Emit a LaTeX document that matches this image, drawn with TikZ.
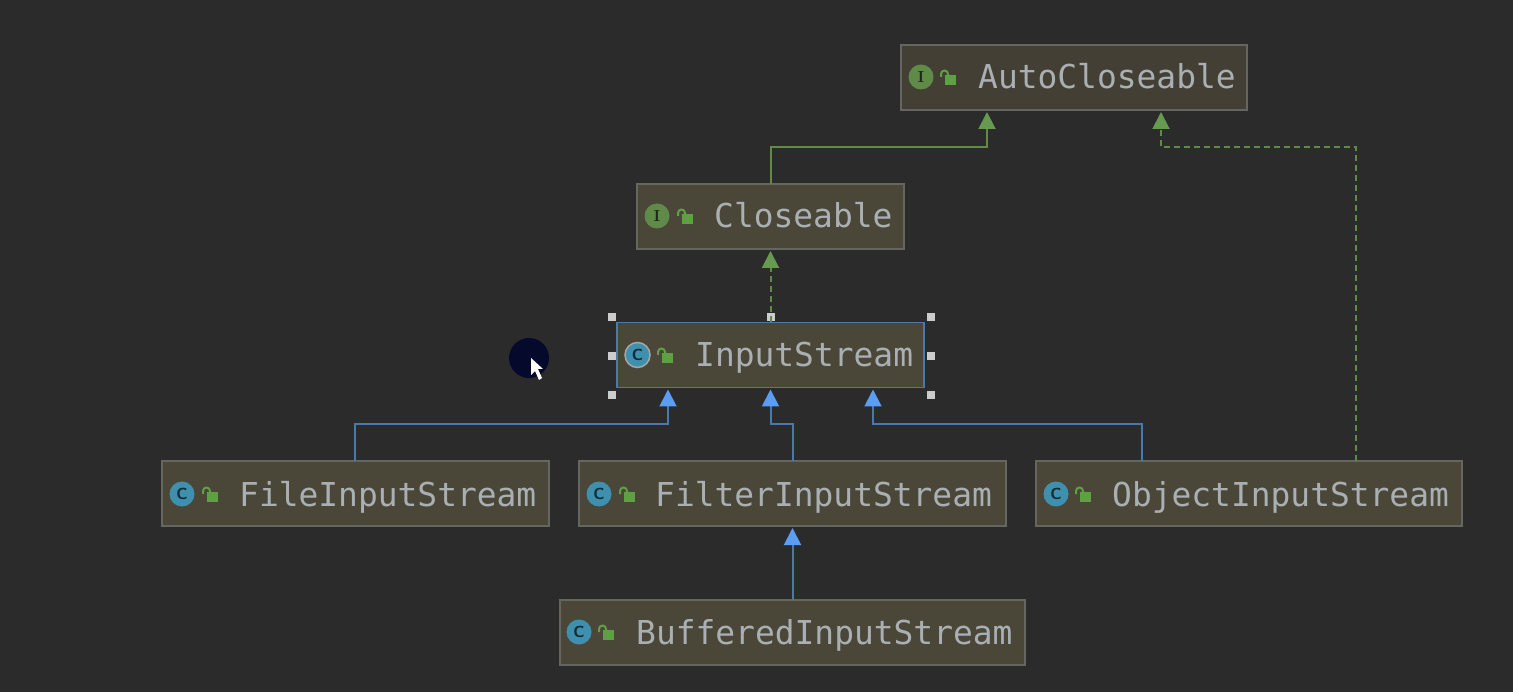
\documentclass[tikz,border=0pt]{standalone}
\usepackage{fontspec}
\setmonofont{DejaVu Sans Mono}
\usepackage{xcolor}
\usetikzlibrary{arrows.meta, positioning, calc}

\definecolor{bgdark}{HTML}{2B2B2B}
\definecolor{boxfill}{HTML}{4A4739}
\definecolor{boxfilldark}{HTML}{433F35}
\definecolor{boxline}{HTML}{666660}
\definecolor{labeltext}{HTML}{A9AFB2}
\definecolor{implgreen}{HTML}{5F8A48}
\definecolor{tipgreen}{HTML}{659A50}
\definecolor{extblue}{HTML}{4A79AD}
\definecolor{tipblue}{HTML}{5B9DF2}
\definecolor{classteal}{HTML}{3F8FAE}
\definecolor{lockgreen}{HTML}{5FA045}
\definecolor{cursordark}{HTML}{05092C}

\tikzset{
  umlbox/.style={draw=boxline, line width=1.6pt, fill=boxfill, minimum height=65pt, inner sep=0pt, outer sep=0pt},
  umllabel/.style={anchor=base west, inner sep=0pt, text=labeltext, font=\ttfamily\fontsize{32.9}{36}\selectfont},
  classicon/.style={circle, fill=classteal, minimum size=25pt, inner sep=0pt, text=black!70!classteal, font=\sffamily\bfseries\fontsize{16}{16}\selectfont},
  ifaceicon/.style={classicon, fill=implgreen, text=black!70!implgreen, font=\rmfamily\bfseries\fontsize{16}{16}\selectfont},
  handle/.style={fill=black!20, minimum size=8pt, inner sep=0pt, outer sep=0pt},
  extline/.style={draw=extblue, line width=2pt, shorten >=2pt, -{Triangle[width=17pt,length=17pt,color=tipblue,fill=tipblue]}},
  implline/.style={draw=implgreen, line width=2pt, shorten >=2pt, -{Triangle[width=17pt,length=17pt,color=tipgreen,fill=tipgreen]}},
  impldash/.style={implline, dash pattern=on 6pt off 4pt},
  lockicon/.pic={
    \fill[lockgreen] (-3,-3) rectangle (8,7);
    \draw[lockgreen, line width=2pt] (-7,-1) -- (-7,-4) arc (180:360:3.5) -- (0,-2);
  }
}

\begin{document}
\begin{tikzpicture}[x=1pt, y=-1pt]
  \fill[bgdark] (0,0) rectangle (1513,692);
  \useasboundingbox (0,0) rectangle (1513,692);

  % boxes
  \node[umlbox, fill=boxfilldark, minimum width=346pt] (autocloseable) at (1074,77.5) {};
  \node[umlbox, minimum width=267pt] (closeable) at (770.5,216.5) {};
  \node[umlbox, draw=extblue, minimum width=307pt] (inputstream) at (770.5,355) {};
  \node[umlbox, minimum width=387pt] (fileinput) at (355.5,493.5) {};
  \node[umlbox, minimum width=427pt] (filterinput) at (792.5,493.5) {};
  \node[umlbox, minimum width=426pt] (objectinput) at (1249,493.5) {};
  \node[umlbox, minimum width=465pt] (bufferedinput) at (792.5,632.5) {};

  % labels and icons
  \node[umllabel] (autolabel) at (978,89) {AutoCloseable};
  \node[ifaceicon] (autoicon) at (921,77) {I};
  \pic at (948,78) {lockicon};
  \node[umllabel] (closelabel) at (714,228) {Closeable};
  \node[ifaceicon] (closeicon) at (657,216) {I};
  \pic at (685,217) {lockicon};
  \node[umllabel] (inputlabel) at (695,367) {InputStream};
  \node[classicon, draw=black!35, line width=1.5pt] (inputicon) at (637.5,355) {C};
  \pic at (665,356) {lockicon};
  \node[umllabel] (filelabel) at (239,506) {FileInputStream};
  \node[classicon] (fileicon) at (182,494) {C};
  \pic at (210,495) {lockicon};
  \node[umllabel] (filterlabel) at (655,506) {FilterInputStream};
  \node[classicon] (filtericon) at (599,494) {C};
  \pic at (627,495) {lockicon};
  \node[umllabel] (objectlabel) at (1112,506) {ObjectInputStream};
  \node[classicon] (objecticon) at (1056,494) {C};
  \pic at (1083,495) {lockicon};
  \node[umllabel] (bufferedlabel) at (636,644) {BufferedInputStream};
  \node[classicon] (bufferedicon) at (579,632) {C};
  \pic at (606,633) {lockicon};

  % selection handles
  \foreach \hx/\hy [count=\i] in {-159/-38, 0/-38, 160.5/-38, -159/1, 160.5/1, -159/40, 160.5/40}
    \node[handle] (handle\i) at ($(inputstream.center)+(\hx,\hy)$) {};

  % connectors
  \draw[implline] (closeable.north) -- ++(0,-37) -| ([xshift=-87pt]autocloseable.south);
  \draw[impldash] ([xshift=107pt]objectinput.north) -- ++(0,-314) -| ([xshift=87pt]autocloseable.south);
  \draw[impldash] (inputstream.north) -- (closeable.south);
  \draw[extline] ([xshift=-0.5pt]fileinput.north) -- ++(0,-37) -| ([xshift=-102.5pt]inputstream.south);
  \draw[extline] (filterinput.north) -- ++(0,-37) -| (inputstream.south);
  \draw[extline] ([xshift=-107pt]objectinput.north) -- ++(0,-37) -| ([xshift=102.5pt]inputstream.south);
  \draw[extline] (bufferedinput.north) -- (filterinput.south);

  % mouse pointer
  \node[circle, fill=cursordark, minimum size=40pt, inner sep=0pt] (cursorspot) at (529,358) {};
  \fill[white] (531,358) -- (531,375) -- (535,371) -- (539,380) -- (542,378) -- (538,369) -- (543,369) -- cycle;
\end{tikzpicture}
\end{document}
